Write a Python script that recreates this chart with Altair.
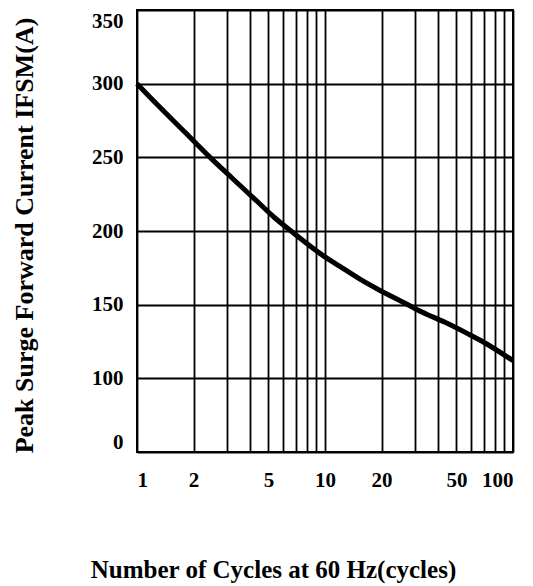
import altair as alt
import pandas as pd

# Curve
cycles = [1, 1.3, 1.8, 2.4, 3.2, 4.2, 5.4, 6.9, 9.6, 12, 15.5, 19.4, 26.7, 32.8, 43.5, 57, 71, 100]
ifsm = [300, 285, 267, 251, 236, 222, 209, 198, 184, 176, 167, 160, 151, 145, 138, 130.5, 124, 112]

x_grid = [1, 2, 3, 4, 5, 6, 7, 8, 9, 10, 20, 30, 40, 50, 60, 70, 80, 90, 100]
x_labels = [1, 2, 5, 10, 20, 50, 100]
y_grid = [50, 100, 150, 200, 250, 300, 350]
y_bottom_label = "0"

df = pd.DataFrame({"cycles": cycles, "ifsm": ifsm})

font = "Liberation Serif"
x_label_expr = "indexof([" + ",".join(str(v) for v in x_labels) + "], datum.value) >= 0 ? datum.label : ''"
y_label_expr = "datum.value == 50 ? '" + y_bottom_label + "' : datum.label"

chart = alt.Chart(df).mark_line(color="black", strokeWidth=5, interpolate="monotone").encode(
    x=alt.X(
        "cycles:Q",
        scale=alt.Scale(type="log", domain=[1, 100], nice=False),
        axis=alt.Axis(
            values=x_grid,
            format="d",
            labelExpr=x_label_expr,
            labelOverlap=False,
            labelPadding=17,
            title="Number of Cycles at 60 Hz(cycles)",
            titleX=136,
            titleY=117,
            titleBaseline="middle",
        ),
    ),
    y=alt.Y(
        "ifsm:Q",
        scale=alt.Scale(domain=[50, 350], nice=False, zero=False),
        axis=alt.Axis(
            values=y_grid,
            labelExpr=y_label_expr,
            labelFlush=True,
            labelOverlap=False,
            labelPadding=14,
            title="Peak Surge Forward Current IFSM(A)",
            titleX=-113,
            titleY=225,
            titleBaseline="middle",
            titleFontSize=26,
        ),
    ),
).properties(
    width=376,
    height=442,
    autosize=alt.AutoSizeParams(type="none"),
    padding={"left": 129, "top": 2, "right": 8, "bottom": 136},
).configure_view(
    stroke="black", strokeWidth=2
).configure_axis(
    grid=True,
    gridColor="black",
    gridWidth=1.8,
    gridOpacity=1,
    domain=False,
    ticks=False,
    labelFont=font,
    labelFontSize=21,
    labelFontWeight="bold",
    labelColor="black",
    titleFont=font,
    titleFontSize=25,
    titleFontWeight="bold",
    titleColor="black",
)

chart.save("out.html", embed_options={"renderer": "svg", "actions": False})
